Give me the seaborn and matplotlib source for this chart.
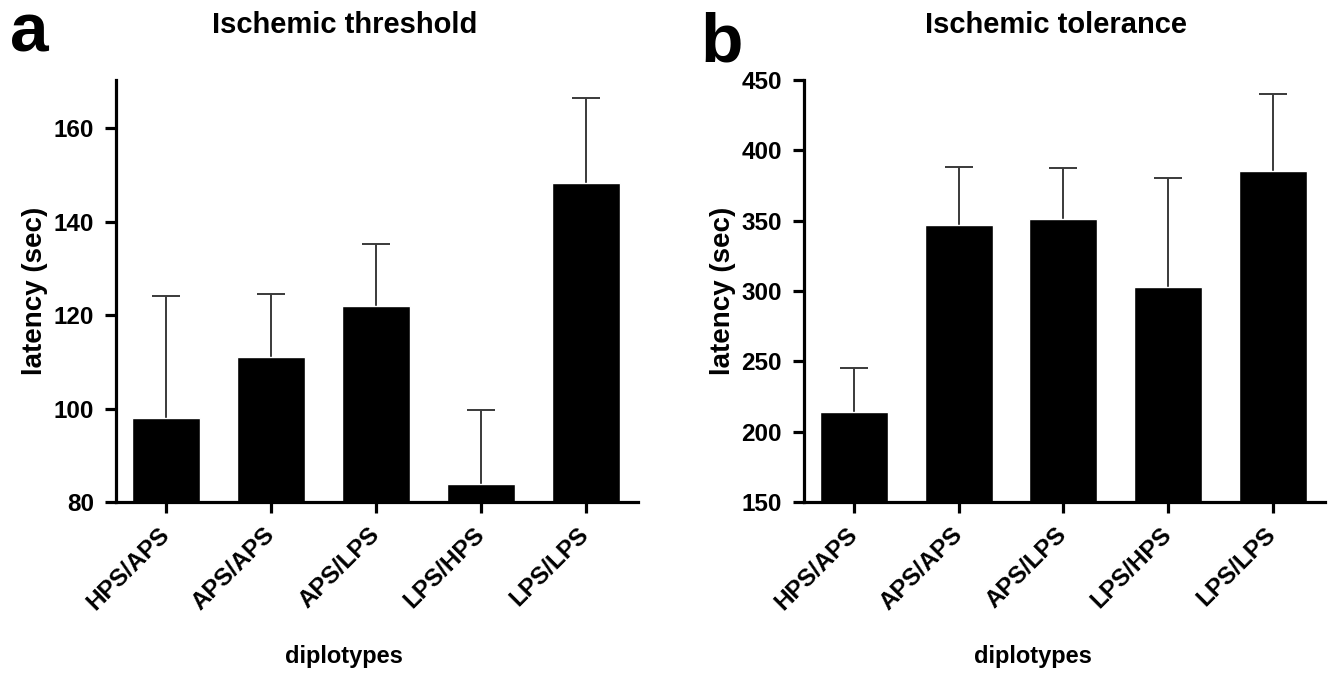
import numpy as np
import pandas as pd
import matplotlib
matplotlib.use("Agg")
import matplotlib.pyplot as plt
import seaborn as sns

# data
diplotypes = ["HPS/APS", "APS/APS", "APS/LPS", "LPS/HPS", "LPS/LPS"]
threshold_mean = [98.0, 111.0, 122.0, 83.9, 148.2]
threshold_upper = [124.1, 124.5, 135.3, 99.7, 166.5]
tolerance_mean = [213.7, 346.7, 351.5, 302.8, 385.2]
tolerance_upper = [245.5, 388.3, 387.6, 380.0, 439.7]

sns.set_style("ticks")
plt.rcParams['font.family'] = ['Liberation Sans', 'DejaVu Sans']
plt.rcParams['font.weight'] = 'bold'
plt.rcParams['text.color'] = 'black'
plt.rcParams['axes.labelcolor'] = 'black'
plt.rcParams['xtick.color'] = 'black'
plt.rcParams['ytick.color'] = 'black'
plt.rcParams['axes.edgecolor'] = 'black'

fig = plt.figure(figsize=(13.36, 6.77), dpi=100)
ax_a = fig.add_axes([116 / 1336, 1 - 502 / 677, 522 / 1336, 422 / 677])
ax_b = fig.add_axes([804 / 1336, 1 - 502 / 677, 521 / 1336, 422 / 677])


def draw_panel(ax, means, upper, ylim, yticks, title, title_x, xlabel_x):
    df = pd.DataFrame({"diplotype": diplotypes, "latency": means})
    sns.barplot(data=df, x="diplotype", y="latency", color="black",
                width=0.65, errorbar=None, ax=ax, zorder=2, saturation=1)
    xs = np.arange(len(means))
    # only the upper half of the SEM bar is drawn, as in the original
    ax.vlines(xs, means, upper, color='#3a3a3a', linewidth=1.4, zorder=1)
    ax.plot(xs, upper, linestyle='none', marker='_', markersize=20,
            markeredgewidth=1.4, color='#3a3a3a', zorder=1)
    ax.set_xlim(-0.48, 4.5)
    ax.set_ylim(*ylim)
    ax.set_yticks(yticks)
    for side in ["top", "right"]:
        ax.spines[side].set_visible(False)
    for side in ["left", "bottom"]:
        ax.spines[side].set_linewidth(2.3)
    ax.tick_params(axis='both', length=8, width=2.3, labelsize=17.5, pad=8)
    ax.tick_params(axis='x', pad=13)
    for lab in ax.get_xticklabels():
        lab.set_rotation(45)
        lab.set_ha('right')
        lab.set_va('center')
        lab.set_rotation_mode('anchor')
        lab.set_fontweight('bold')
    for lab in ax.get_yticklabels():
        lab.set_fontweight('bold')
    ax.set_xlabel("")
    ax.set_ylabel("latency (sec)", fontsize=20, fontweight='bold', labelpad=4)
    ax.text(xlabel_x, -0.367, "diplotypes", transform=ax.transAxes,
            ha='center', va='center', fontsize=17, fontweight='bold')
    ax.text(title_x, 1.13, title, transform=ax.transAxes, ha='center',
            va='center', fontsize=21, fontweight='bold')
    return ax


draw_panel(ax_a, threshold_mean, threshold_upper, (80, 170.3),
           [80, 100, 120, 140, 160], "Ischemic threshold",
           (345 - 116) / 522, (344 - 116) / 522)
draw_panel(ax_b, tolerance_mean, tolerance_upper, (150, 450),
           [150, 200, 250, 300, 350, 400, 450], "Ischemic tolerance",
           (1056 - 804) / 521, (1033 - 804) / 521)

fig.text(10 / 1336, 1 - 51 / 677, "a", fontsize=50, fontweight='bold',
         ha='left', va='baseline')
fig.text(700 / 1336, 1 - 62 / 677, "b", fontsize=50, fontweight='bold',
         ha='left', va='baseline')

fig.savefig("out.png", dpi=100)
